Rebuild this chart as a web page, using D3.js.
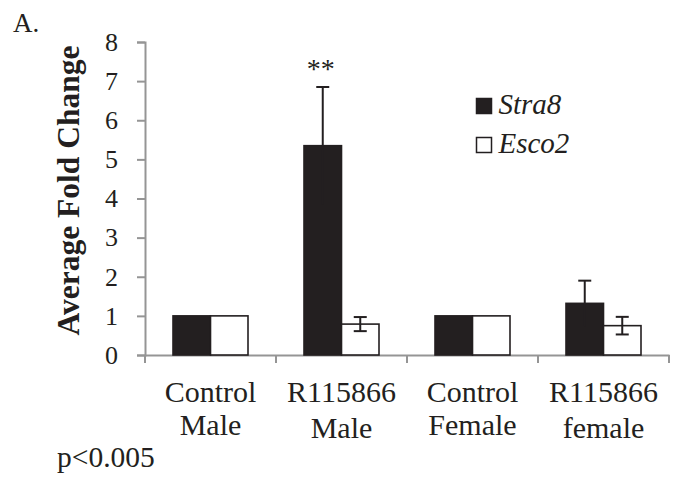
<!DOCTYPE html>
<html>
<head>
<meta charset="utf-8">
<script src="https://cdnjs.cloudflare.com/ajax/libs/d3/7.8.5/d3.min.js"></script>
<style>
  body { margin: 0; background: #fff; }
  text { font-family: "Liberation Serif", "Times New Roman", serif; fill: #231f20; }
</style>
</head>
<body>
<script>
var groups = ["Control Male", "R115866 Male", "Control Female", "R115866 female"];
var groupLines = [["Control", "Male"], ["R115866", "Male"], ["Control", "Female"], ["R115866", "female"]];
var genes = ["Stra8", "Esco2"];
var stra8 = [1, 5.35, 1, 1.32];
var stra8Err = [0, 1.5, 0, 0.58];
var esco2 = [1, 0.79, 1, 0.75];
var esco2Err = [0, 0.18, 0, 0.225];
var yTicks = [0, 1, 2, 3, 4, 5, 6, 7, 8];

var w = 688, h = 479;
var svg = d3.select("body").append("svg").attr("width", w).attr("height", h);

var x = d3.scaleBand().domain(groups).range([145, 669]);
var sub = d3.scaleBand().domain(genes).range([0, 75]);
var off = (x.bandwidth() - 75) / 2;
var y = d3.scaleLinear().domain([0, 8]).range([355, 42]);
var fills = {"Stra8": "#231f20", "Esco2": "#fff"};
var axisGrey = "#959595";

var flat = [];
groups.forEach(function(g, i) {
  flat.push({group: g, gene: "Stra8", value: stra8[i], err: stra8Err[i]});
  flat.push({group: g, gene: "Esco2", value: esco2[i], err: esco2Err[i]});
});

// y axis
var yAxis = svg.append("g").attr("transform", "translate(145,0)")
  .call(d3.axisLeft(y).tickValues(yTicks).tickSize(8).tickPadding(19));
yAxis.select(".domain").attr("stroke", axisGrey).attr("stroke-width", 2);
yAxis.selectAll(".tick line").attr("stroke", axisGrey).attr("stroke-width", 2);
yAxis.selectAll(".tick text").style("font-size", "26px").attr("fill", "#231f20")
  .style("font-family", "'Liberation Serif', serif");

// x axis
var xAxis = svg.append("g").attr("transform", "translate(0,355)")
  .call(d3.axisBottom(x).tickSize(0).tickFormat(""));
xAxis.select(".domain").attr("stroke", axisGrey).attr("stroke-width", 2);
var edges = groups.map(function(g) { return x(g); }).concat([x.range()[1]]);
xAxis.selectAll(".sep").data(edges).enter().append("line")
  .attr("x1", function(d) { return d; }).attr("x2", function(d) { return d; })
  .attr("y1", 0).attr("y2", 8)
  .attr("stroke", axisGrey).attr("stroke-width", 2);

// bars
function bx(d) { return x(d.group) + off + sub(d.gene); }
function cx(d) { return bx(d) + sub.bandwidth() / 2; }
svg.append("g").selectAll("rect").data(flat).enter().append("rect")
  .attr("x", bx)
  .attr("y", function(d) { return y(d.value); })
  .attr("width", sub.bandwidth())
  .attr("height", function(d) { return y(0) - y(d.value); })
  .attr("fill", function(d) { return fills[d.gene]; })
  .attr("stroke", "#231f20").attr("stroke-width", 1.6);

// error bars
var eb = svg.append("g").selectAll("g").data(flat.filter(function(d) { return d.err > 0; }))
  .enter().append("g")
  .attr("stroke", "#231f20").attr("stroke-width", 2);
eb.append("line")
  .attr("x1", cx).attr("x2", cx)
  .attr("y1", function(d) { return y(d.value - d.err); })
  .attr("y2", function(d) { return y(d.value + d.err); });
eb.append("line")
  .attr("x1", function(d) { return cx(d) - 6.5; }).attr("x2", function(d) { return cx(d) + 6.5; })
  .attr("y1", function(d) { return y(d.value + d.err); })
  .attr("y2", function(d) { return y(d.value + d.err); });
eb.filter(function(d) { return d.gene === "Esco2"; }).append("line")
  .attr("x1", function(d) { return cx(d) - 6.5; }).attr("x2", function(d) { return cx(d) + 6.5; })
  .attr("y1", function(d) { return y(d.value - d.err); })
  .attr("y2", function(d) { return y(d.value - d.err); });

// significance
svg.append("text")
  .attr("x", cx(flat[2]) - 2)
  .attr("y", 78).attr("text-anchor", "middle")
  .style("font-size", "28px").text("**");

// category labels
var cl = svg.append("g").selectAll("text").data(groups).enter().append("text")
  .attr("text-anchor", "middle").style("font-size", "30px");
cl.append("tspan")
  .attr("x", function(d) { return x(d) + x.bandwidth() / 2; })
  .attr("y", 402)
  .text(function(d, i) { return groupLines[i][0]; });
cl.append("tspan")
  .attr("x", function(d) { return x(d) + x.bandwidth() / 2; })
  .attr("y", function(d, i) { return i % 2 === 1 ? 438 : 435; })
  .text(function(d, i) { return groupLines[i][1]; });

// y label
svg.append("text")
  .attr("transform", "translate(79,190.5) rotate(-90)")
  .attr("text-anchor", "middle")
  .style("font-size", "31.5px").style("font-weight", "bold")
  .text("Average Fold Change");

// legend
var lg = svg.append("g").selectAll("g").data(genes).enter().append("g")
  .attr("transform", function(d, i) { return "translate(476.5," + (98.5 + i * 39) + ")"; });
lg.append("rect").attr("width", 15).attr("height", 15)
  .attr("fill", function(d) { return fills[d]; })
  .attr("stroke", "#231f20").attr("stroke-width", 1.5);
lg.append("text").attr("x", 22).attr("y", 15)
  .style("font-size", "29px").style("font-style", "italic")
  .text(function(d) { return d; });

svg.append("text").attr("x", 13).attr("y", 32).style("font-size", "27px").text("A.");
svg.append("text").attr("x", 57).attr("y", 467).style("font-size", "29.5px").text("p<0.005");
</script>
</body>
</html>
